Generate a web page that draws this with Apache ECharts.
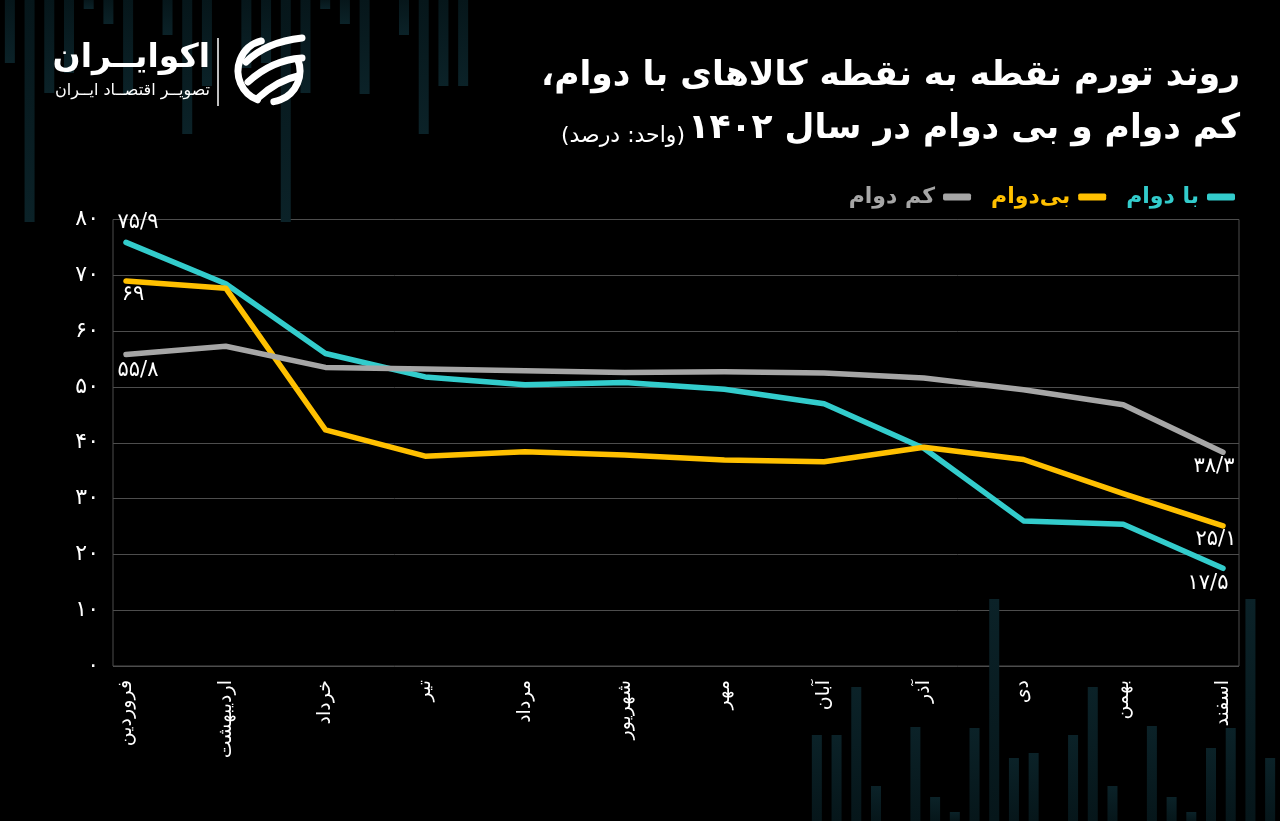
<!DOCTYPE html>
<html dir="rtl">
<head>
<meta charset="utf-8">
<script src="https://cdn.jsdelivr.net/npm/echarts@6/dist/echarts.min.js"></script>
<style>
html,body{margin:0;padding:0;background:#000;}
#c{width:1280px;height:821px;}
</style>
</head>
<body>
<div id="c"></div>
<script>
// ---------- data ----------
const months = ['فروردین','اردیبهشت','خرداد','تیر','مرداد','شهریور','مهر','آبان','آذر','دی','بهمن','اسفند'];
const durable     = [75.9, 68.5, 56.0, 51.8, 50.4, 50.8, 49.6, 47.0, 39.0, 26.0, 25.4, 17.5];
const nonDurable  = [69.0, 67.7, 42.3, 37.6, 38.4, 37.8, 36.9, 36.6, 39.2, 37.0, 30.9, 25.1];
const semiDurable = [55.8, 57.3, 53.5, 53.2, 52.9, 52.6, 52.7, 52.5, 51.6, 49.5, 46.8, 38.3];
const seriesNames = ['با دوام', 'بی‌دوام', 'کم دوام'];
const yMin = 0, yMax = 80, yStep = 10;
// decorative background bars (relative heights)
const decoBars = [86,86,134,35,0,94,24,9,93,222,63,68,0,86,134,35,0,95,24,9,73,93,222,63];
const decoSlots = decoBars.map((_, i) => i);

// ---------- helpers ----------
const FA = '۰۱۲۳۴۵۶۷۸۹';
const fa = v => String(v).replace(/\d/g, d => FA[d]).replace('.', '/');
const fontFa = '"DejaVu Sans", sans-serif';

const colors = ['#33cccc', '#ffc000', '#a6a6a6'];

const endLabels = [
  { first: { position: 'top', distance: 9, offset: [12, 0] },   last: { position: 'bottom', distance: 4.5, offset: [-15, 0] } },
  { first: { position: 'bottom', distance: 3, offset: [7, 0] }, last: { position: 'bottom', distance: 2.5, offset: [-7, 0] } },
  { first: { position: 'bottom', distance: 5, offset: [12, 0] }, last: { position: 'bottom', distance: 3, offset: [-9, 0] } }
];

function buildData(arr, idx) {
  return arr.map((v, i) => {
    const item = { value: v };
    let cfg = null;
    if (i === 0) cfg = endLabels[idx].first;
    if (i === arr.length - 1) cfg = endLabels[idx].last;
    if (cfg) {
      item.label = Object.assign({
        show: true,
        formatter: p => fa(p.value),
        color: '#ffffff',
        fontSize: 21,
        fontFamily: fontFa
      }, cfg);
    }
    return item;
  });
}

const allSeries = [durable, nonDurable, semiDurable];

const chart = echarts.init(document.getElementById('c'), null, { renderer: 'canvas' });

const decoColorBottom = { type: 'linear', x: 0, y: 0, x2: 0, y2: 1,
  colorStops: [{ offset: 0, color: '#0b2228' }, { offset: 1, color: '#06161a' }] };
const decoColorTop = { type: 'linear', x: 0, y: 0, x2: 0, y2: 1,
  colorStops: [{ offset: 0, color: '#06161a' }, { offset: 1, color: '#0b2228' }] };

const strokeW = { stroke: '#ffffff', fill: null, lineWidth: 7, lineCap: 'round' };

const option = {
  backgroundColor: '#000000',
  animation: false,
  textStyle: { fontFamily: fontFa },
  legend: {
    data: [
      { name: seriesNames[2], textStyle: { color: colors[2] } },
      { name: seriesNames[1], textStyle: { color: colors[1] } },
      { name: seriesNames[0], textStyle: { color: colors[0] } }
    ],
    right: 40,
    top: 181,
    align: 'right',
    icon: 'roundRect',
    itemWidth: 28,
    itemHeight: 7,
    itemGap: 20,
    textStyle: { fontSize: 22, fontWeight: 'bold', fontFamily: fontFa, padding: [0, 3, 0, 0] }
  },
  grid: [
    { left: 126, right: 57, top: 219.5, bottom: 155 },
    { left: 113, right: 41, top: 219.5, bottom: 155, show: true, borderColor: '#4d4d4d', borderWidth: 1 },
    { left: 807, width: 476.4, top: 0, height: 821 },
    { left: -3.4, width: 476.4, top: 0, height: 821 }
  ],
  xAxis: [
    {
      gridIndex: 0, type: 'category', data: months, boundaryGap: false,
      axisLine: { show: false }, axisTick: { show: false }, splitLine: { show: false },
      axisLabel: { color: '#ffffff', fontSize: 19, rotate: 90, margin: 14, interval: 0, fontFamily: fontFa }
    },
    { gridIndex: 1, type: 'value', show: false, min: 0, max: 1 },
    { gridIndex: 2, type: 'category', data: decoSlots, show: false },
    { gridIndex: 3, type: 'category', data: decoSlots, show: false, inverse: true }
  ],
  yAxis: [
    { gridIndex: 0, type: 'value', min: yMin, max: yMax, interval: yStep, show: false },
    {
      gridIndex: 1, type: 'value', min: yMin, max: yMax, interval: yStep,
      axisLine: { show: false }, axisTick: { show: false },
      splitLine: { show: true, lineStyle: { color: '#4d4d4d', width: 1 } },
      axisLabel: { color: '#ffffff', fontSize: 22, margin: 14, formatter: v => fa(v), fontFamily: fontFa }
    },
    { gridIndex: 2, type: 'value', min: 0, max: 821, show: false },
    { gridIndex: 3, type: 'value', min: 0, max: 821, show: false, inverse: true }
  ],
  series: [
    {
      type: 'bar', xAxisIndex: 2, yAxisIndex: 2, data: decoBars, barWidth: 10, silent: true, z: 0,
      itemStyle: { color: decoColorBottom }
    },
    {
      type: 'bar', xAxisIndex: 3, yAxisIndex: 3, data: decoBars, barWidth: 10, silent: true, z: 0,
      itemStyle: { color: decoColorTop }
    }
  ].concat(allSeries.map((arr, idx) => ({
    name: seriesNames[idx],
    type: 'line',
    xAxisIndex: 0,
    yAxisIndex: 0,
    data: buildData(arr, idx),
    symbol: 'circle',
    symbolSize: 1,
    showSymbol: true,
    itemStyle: { color: colors[idx] },
    lineStyle: { color: colors[idx], width: 5.5, cap: 'round', join: 'round' },
    label: { show: false },
    z: 3 + idx
  }))),
  graphic: [
    {
      type: 'text', right: 40, top: 59, z: 10,
      style: {
        text: 'روند تورم نقطه به نقطه کالاهای با دوام،',
        fill: '#ffffff', font: 'bold 34.5px ' + fontFa
      }
    },
    {
      type: 'text', right: 40, top: 112, z: 10,
      style: {
        text: '{b|(واحد: درصد)} {a|کم دوام و بی دوام در سال ۱۴۰۲}',
        fill: '#ffffff',
        rich: {
          a: { fontSize: 34.5, fontWeight: 'bold', fontFamily: fontFa, fill: '#ffffff', verticalAlign: 'bottom' },
          b: { fontSize: 22, fontFamily: fontFa, fill: '#ffffff', verticalAlign: 'bottom' }
        }
      }
    },
    {
      type: 'text', right: 1070, top: 42, z: 10,
      style: { text: 'اکوایــران', fill: '#ffffff', font: 'bold 33px ' + fontFa }
    },
    {
      type: 'text', right: 1070, top: 83, z: 10,
      style: { text: 'تصویــر اقتصــاد ایــران', fill: '#ffffff', font: '16px ' + fontFa }
    },
    { type: 'line', z: 10, shape: { x1: 218, y1: 38, x2: 218, y2: 106 }, style: { stroke: '#ffffff', lineWidth: 1.5 } },
    { type: 'arc', z: 10, shape: { cx: 269, cy: 71, r: 31, startAngle: Math.PI * 0.62, endAngle: Math.PI * 1.42 }, style: strokeW },
    { type: 'arc', z: 10, shape: { cx: 269, cy: 71, r: 31, startAngle: -Math.PI * 0.12, endAngle: Math.PI * 0.45 }, style: strokeW },
    { type: 'bezierCurve', z: 10, shape: { x1: 246, y1: 62, cpx1: 266, cpy1: 42, x2: 302, y2: 38 }, style: strokeW },
    { type: 'bezierCurve', z: 10, shape: { x1: 248, y1: 82, cpx1: 272, cpy1: 60, x2: 302, y2: 58 }, style: strokeW },
    { type: 'bezierCurve', z: 10, shape: { x1: 258, y1: 98, cpx1: 278, cpy1: 80, x2: 298, y2: 76 }, style: strokeW }
  ]
};

chart.setOption(option);
</script>
</body>
</html>
